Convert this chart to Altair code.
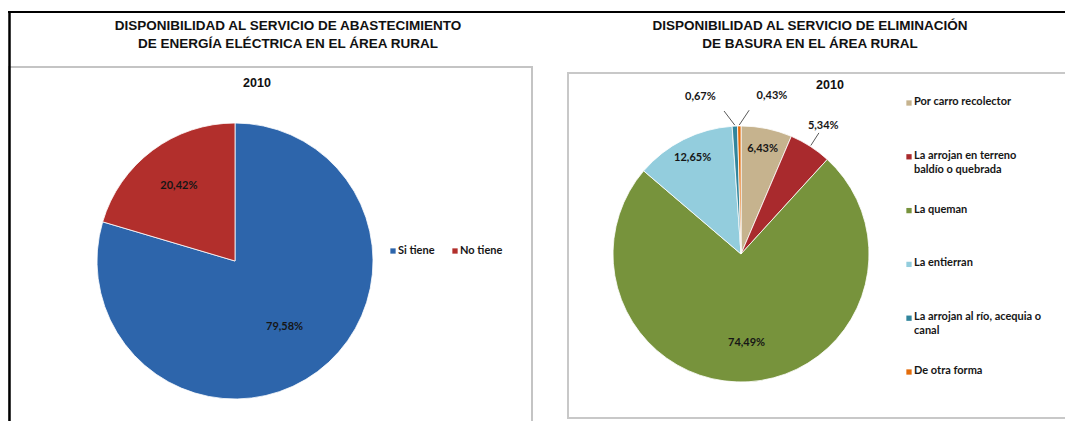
import altair as alt
import pandas as pd

# ---------------- data ----------------
title_left = ["DISPONIBILIDAD AL SERVICIO DE ABASTECIMIENTO",
              "DE ENERGÍA ELÉCTRICA EN EL ÁREA RURAL"]
title_right = ["DISPONIBILIDAD AL SERVICIO DE ELIMINACIÓN",
               "DE BASURA EN EL ÁREA RURAL"]
year_label = "2010"

elec_cats = ["Si tiene", "No tiene"]
elec_vals = [79.58, 20.42]
elec_colors = ["#2D65AB", "#B22F2C"]

bas_cats = ["Por carro recolector",
            "La arrojan en terreno baldío o quebrada",
            "La queman",
            "La entierran",
            "La arrojan al río, acequia o canal",
            "De otra forma"]
bas_legend = ["Por carro recolector",
              "La arrojan en terreno\nbaldío o quebrada",
              "La queman",
              "La entierran",
              "La arrojan al río, acequia o\ncanal",
              "De otra forma"]
bas_vals = [6.43, 5.34, 74.49, 12.65, 0.67, 0.43]
bas_colors = ["#C6B38E", "#A92A2D", "#77933C", "#93CDDD", "#31859C", "#E46C0A"]

FONT = "Liberation Sans"
LFONT = "Lato"
one = pd.DataFrame({"d": [0]})


def pie(cats, vals, colors, cx, cy, R, big_f, mid_f):
    n = len(cats)
    df = pd.DataFrame({"cat": cats, "v": vals, "i": list(range(n))})
    base = alt.Chart(df)
    color = alt.Color("cat:N", scale=alt.Scale(domain=cats, range=colors), legend=None)
    arc = base.mark_arc(radius=R, x=cx, y=cy, stroke="white", strokeWidth=0.8).encode(
        theta=alt.Theta("v:Q", stack=True),
        order=alt.Order("i:Q"),
        color=color,
    )
    calc = (
        base.transform_joinaggregate(tot="sum(v)")
        .transform_window(cum="sum(v)", sort=[alt.SortField("i", order="ascending")], frame=[None, 0])
        .transform_calculate(a="2*PI*(datum.cum - datum.v/2)/datum.tot")
        .transform_calculate(s=f"datum.v < 1 ? ((datum.i == {n-1} || sin(datum.a) > 0) ? 1 : -1) : 0")
        .transform_calculate(la="datum.a + datum.s*0.07")
        .transform_calculate(
            rl=f"datum.v > 50 ? {big_f*R} : (datum.v >= 6 ? {mid_f*R} : (datum.v < 1 ? {R+30} : {R+24}))")
        .transform_calculate(lab="replace(format(datum.v, '.2f'), '.', ',') + '%'")
        .transform_calculate(lx=f"{cx} + datum.rl*sin(datum.la) + datum.s*22")
        .transform_calculate(ly=f"{cy} - datum.rl*cos(datum.la)")
        .transform_calculate(x1=f"{cx} + {R+1}*sin(datum.a)")
        .transform_calculate(y1=f"{cy} - {R+1}*cos(datum.a)")
        .transform_calculate(x2=f"{cx} + {R+16}*sin(datum.la)")
        .transform_calculate(y2=f"{cy} - {R+16}*cos(datum.la)")
    )
    labels = calc.mark_text(font=LFONT, fontWeight="bold", fontSize=11, color="#161616").encode(
        x=alt.X("lx:Q", scale=None, axis=None),
        y=alt.Y("ly:Q", scale=None, axis=None),
        text="lab:N",
    )
    leaders = calc.transform_filter("datum.v < 6").mark_rule(color="#595959", strokeWidth=1).encode(
        x=alt.X("x1:Q", scale=None, axis=None),
        y=alt.Y("y1:Q", scale=None, axis=None),
        x2="x2:Q",
        y2="y2:Q",
    )
    return [arc, leaders, labels]


# ---------------- frames ----------------
box_left = alt.Chart(one).mark_rect(filled=False, stroke="#c4c4c4", strokeWidth=2).encode(
    x=alt.value(0), x2=alt.value(524), y=alt.value(59), y2=alt.value(440))
box_right = alt.Chart(one).mark_rect(filled=False, stroke="#c8c8c8", strokeWidth=2).encode(
    x=alt.value(560), x2=alt.value(1090), y=alt.value(65), y2=alt.value(410))
top_line = alt.Chart(one).mark_rule(color="black", strokeWidth=2).encode(
    x=alt.value(0), x2=alt.value(1057), y=alt.value(4))
left_line = alt.Chart(one).mark_rule(color="black", strokeWidth=2.5).encode(
    x=alt.value(1.5), y=alt.value(4), y2=alt.value(430))

# ---------------- titles ----------------
def text_block(lines, x, y, size, lh):
    d = pd.DataFrame({"t": ["\n".join(lines)]})
    return alt.Chart(d).mark_text(font=FONT, fontWeight="bold", fontSize=size, lineHeight=lh,
                                  lineBreak="\n", align="center", baseline="top",
                                  color="#111111").encode(
        x=alt.value(x), y=alt.value(y), text="t:N")

tl = text_block(title_left, 280, 11, 13.5, 18)
tr = text_block(title_right, 802, 11, 13.5, 18)
yl = text_block([year_label], 249, 69, 12.5, 14)
yr = text_block([year_label], 822, 71, 12.5, 14)

# ---------------- legends ----------------
ldf = pd.DataFrame({"cat": elec_cats})
lx_scale = alt.Scale(type="point", domain=elec_cats, range=[385, 447], padding=0)
lcolor = alt.Color("cat:N", scale=alt.Scale(domain=elec_cats, range=elec_colors), legend=None)
leg_l_sq = alt.Chart(ldf).mark_square(size=28, opacity=1).encode(
    x=alt.X("cat:N", scale=lx_scale, axis=None), y=alt.value(243), color=lcolor)
leg_l_tx = alt.Chart(ldf).mark_text(font=LFONT, fontWeight="bold", fontSize=11, align="left",
                                    baseline="middle", dx=5, color="#161616").encode(
    x=alt.X("cat:N", scale=lx_scale, axis=None), y=alt.value(243), text="cat:N")

rdf = pd.DataFrame({"cat": bas_cats, "lab": bas_legend})
ry_scale = alt.Scale(type="point", domain=bas_cats, range=[95, 364], padding=0)
rcolor = alt.Color("cat:N", scale=alt.Scale(domain=bas_cats, range=bas_colors), legend=None)
leg_r_sq = alt.Chart(rdf).mark_square(size=28, opacity=1).encode(
    x=alt.value(901), y=alt.Y("cat:N", scale=ry_scale, axis=None), color=rcolor)
leg_r_tx = alt.Chart(rdf).mark_text(font=LFONT, fontWeight="bold", fontSize=11, align="left",
                                    baseline="top", dy=-7, lineBreak="\n", lineHeight=14,
                                    color="#161616").encode(
    x=alt.value(906), y=alt.Y("cat:N", scale=ry_scale, axis=None), text="lab:N")

layers = [box_left, box_right, top_line, left_line, tl, tr, yl, yr]
layers += pie(elec_cats, elec_vals, elec_colors, 227, 253, 138, 0.6, 0.68)
layers += pie(bas_cats, bas_vals, bas_colors, 733, 246, 128, 0.7, 0.84)
layers += [leg_l_sq, leg_l_tx, leg_r_sq, leg_r_tx]

chart = alt.layer(*layers).resolve_scale(
    x="independent", y="independent", color="independent", theta="independent"
).properties(
    width=1057, height=413, autosize="none", padding=0, background="white"
).configure_view(stroke=None)

chart.save("out.html", embed_options={"renderer": "svg", "actions": False})
